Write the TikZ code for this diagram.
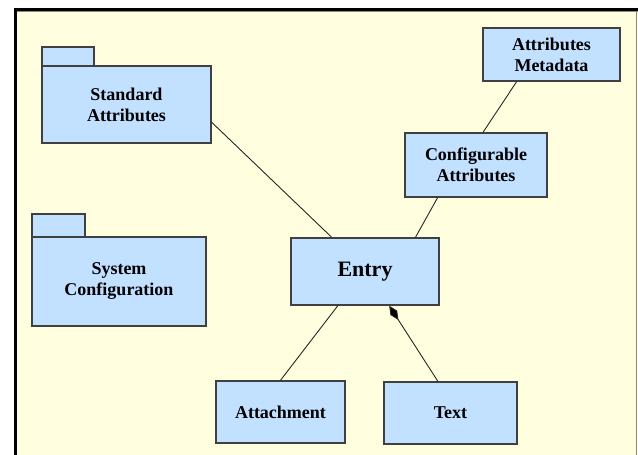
\documentclass[tikz,border=0pt]{standalone}
\usepackage{fontspec}
\setmainfont{Liberation Serif}
\usetikzlibrary{calc,arrows.meta}
\definecolor{bgyellow}{HTML}{FFFFE0}
\definecolor{boxblue}{HTML}{C2E0FF}
\definecolor{boxline}{HTML}{404040}
\definecolor{framegrey}{HTML}{8A8A80}
\tikzset{
  umlbox/.style={draw=boxline,line width=1.4pt,fill=boxblue,rectangle,inner sep=0pt,
    align=center,font=\fontsize{18}{21}\selectfont\bfseries},
  tabbox/.style={draw=boxline,line width=1.4pt,fill=boxblue},
  link/.style={draw=black!85,line width=0.9pt},
}
\begin{document}
\begin{tikzpicture}[x=1pt,y=-1pt]
\useasboundingbox (0,0) rectangle (638,455);
% frame
\fill[bgyellow] (15,9) rectangle (638,455);
\draw[framegrey,line width=1.5pt] (636.5,11) -- (636.5,455);
\draw[framegrey,line width=1pt] (17,11.5) -- (638,11.5);
\draw[black,line width=3pt] (15.5,455) -- (15.5,9.5) -- (638,9.5);
% package tabs
\draw[tabbox] (42,47) rectangle (94,66);
\draw[tabbox] (32,214) rectangle (85,237);
% boxes
\node[umlbox,minimum width=169pt,minimum height=77pt] (std) at (126.5,104.5) {Standard\\Attributes};
\node[umlbox,minimum width=174pt,minimum height=89pt] (sys) at (119,281.5) {System\\Configuration};
\node[umlbox,minimum width=148pt,minimum height=67pt,font=\fontsize{22}{26}\selectfont\bfseries] (entry) at (365,271.5) {Entry};
\node[umlbox,minimum width=129pt,minimum height=62pt] (att) at (280.5,412) {Attachment};
\node[umlbox,minimum width=133pt,minimum height=62pt] (txt) at (450.5,413) {Text};
\node[umlbox,minimum width=142pt,minimum height=64pt] (conf) at (476,165) {Configurable\\Attributes};
\node[umlbox,minimum width=137pt,minimum height=53pt] (meta) at (551.5,54.5) {Attributes\\Metadata};
% anchor points
\coordinate (stdE) at ($(std.north east)!0.727!(std.south east)$);
\coordinate (entN1) at ($(entry.north west)!0.277!(entry.north east)$);
\coordinate (entN2) at ($(entry.north west)!0.838!(entry.north east)$);
\coordinate (confS) at ($(conf.south west)!0.232!(conf.south east)$);
\coordinate (confN) at ($(conf.north west)!0.549!(conf.north east)$);
\coordinate (metaS) at ($(meta.south west)!0.248!(meta.south east)$);
\coordinate (entS1) at ($(entry.south west)!0.318!(entry.south east)$);
\coordinate (entS2) at ($(entry.south west)!0.662!(entry.south east)$);
\coordinate (txtN) at ($(txt.north west)!0.406!(txt.north east)$);
% connectors
\draw[link] (stdE) -- (entN1);
\draw[link] (confS) -- (entN2);
\draw[link] (metaS) -- (confN);
\draw[link] (entS1) -- (att.north);
\draw[link,{Diamond[length=17pt,width=8pt,fill=black]}-] (entS2) -- (txtN);
\end{tikzpicture}
\end{document}
